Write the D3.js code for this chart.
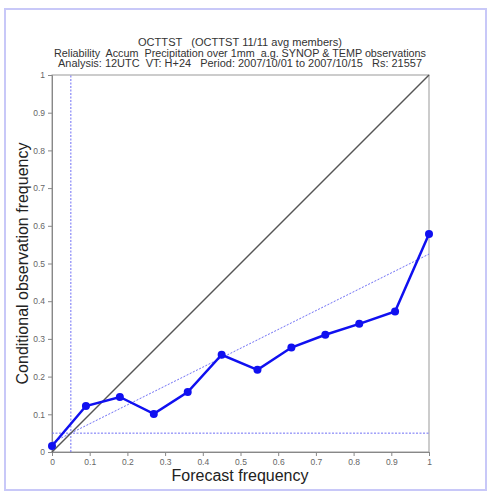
<!DOCTYPE html>
<html lang="en">
<head>
<meta charset="UTF-8">
<title>Reliability</title>
<script src="https://cdn.jsdelivr.net/npm/d3@7"></script>
<style>
    body { margin: 0; background: #fff; }
    text { font-family: "Liberation Sans", Arial, sans-serif; }
    .title { white-space: pre; }
</style>
</head>
<body>
<div id="chart"></div>
<script>
    // data
    const forecastProb = [0.0, 0.09, 0.18, 0.27, 0.36, 0.45, 0.545, 0.635, 0.725, 0.815, 0.91, 1.0];
    const observedFreq = [0.016, 0.122, 0.146, 0.101, 0.159, 0.258, 0.218, 0.277, 0.311, 0.340, 0.373, 0.578];
    const climate = 0.05;
    const ticks = [0, 0.1, 0.2, 0.3, 0.4, 0.5, 0.6, 0.7, 0.8, 0.9, 1];
    const titleLines = [
        "OCTTST   (OCTTST 11/11 avg members)",
        "Reliability  Accum  Precipitation over 1mm  a.g. SYNOP & TEMP observations",
        "Analysis: 12UTC  VT: H+24   Period: 2007/10/01 to 2007/10/15   Rs: 21557"
    ];
    const titleWidths = [204, 372, 364];

    const W = 489, H = 494;
    const svg = d3.select("#chart").append("svg")
        .attr("width", W).attr("height", H);

    // page frame
    svg.append("rect")
        .attr("x", 5).attr("y", 9).attr("width", 481).attr("height", 481)
        .attr("fill", "none").attr("stroke", "#c8c8f8").attr("stroke-width", 2);

    const x = d3.scaleLinear().domain([0, 1]).range([52, 429]);
    const y = d3.scaleLinear().domain([0, 1]).range([452, 75]);

    // titles
    svg.selectAll("text.title")
        .data(titleLines)
        .enter().append("text")
        .attr("class", "title")
        .attr("x", 240)
        .attr("y", (d, i) => 46 + i * 10.5)
        .attr("text-anchor", "middle")
        .attr("font-size", 10)
        .attr("textLength", (d, i) => titleWidths[i])
        .attr("lengthAdjust", "spacingAndGlyphs")
        .attr("fill", "#333")
        .text(d => d);

    // plot box
    svg.append("rect")
        .attr("x", x(0)).attr("y", y(1))
        .attr("width", x(1) - x(0)).attr("height", y(0) - y(1))
        .attr("fill", "none").attr("stroke", "#999").attr("stroke-width", 1);

    // axes
    const fmt = d => d === 0 ? "0" : d === 1 ? "1" : d3.format(".1f")(d);
    const xAxis = svg.append("g")
        .attr("transform", `translate(0,${y(0)})`)
        .call(d3.axisBottom(x).tickValues(ticks).tickFormat(fmt).tickSize(4).tickPadding(3));
    const yAxis = svg.append("g")
        .attr("transform", `translate(${x(0)},0)`)
        .call(d3.axisLeft(y).tickValues(ticks).tickFormat(fmt).tickSize(4).tickPadding(3));
    [xAxis, yAxis].forEach(a => {
        a.select(".domain").attr("stroke", "#888");
        a.selectAll(".tick line").attr("stroke", "#888");
        a.selectAll(".tick text").attr("fill", "#666").attr("font-size", 8.5)
            .attr("font-family", "Liberation Sans, Arial, sans-serif");
    });

    // climatology lines
    const dashed = { stroke: "#6f6ff5", width: 1, dash: "2,1.5" };
    svg.append("line")
        .attr("x1", x(climate)).attr("x2", x(climate))
        .attr("y1", y(0)).attr("y2", y(1))
        .attr("stroke", dashed.stroke).attr("stroke-width", dashed.width)
        .attr("stroke-dasharray", dashed.dash);
    svg.append("line")
        .attr("x1", x(0)).attr("x2", x(1))
        .attr("y1", y(climate)).attr("y2", y(climate))
        .attr("stroke", dashed.stroke).attr("stroke-width", dashed.width)
        .attr("stroke-dasharray", dashed.dash);
    // no-skill line
    svg.append("line")
        .attr("x1", x(0)).attr("x2", x(1))
        .attr("y1", y(climate / 2)).attr("y2", y(0.5 + climate / 2))
        .attr("stroke", dashed.stroke).attr("stroke-width", dashed.width)
        .attr("stroke-dasharray", dashed.dash);

    // perfect reliability diagonal
    svg.append("line")
        .attr("x1", x(0)).attr("x2", x(1))
        .attr("y1", y(0)).attr("y2", y(1))
        .attr("stroke", "#555").attr("stroke-width", 1.5);

    // reliability curve
    const pts = forecastProb.map((p, i) => [p, observedFreq[i]]);
    svg.append("path")
        .datum(pts)
        .attr("d", d3.line().x(d => x(d[0])).y(d => y(d[1])))
        .attr("fill", "none").attr("stroke", "#1010f0").attr("stroke-width", 2.5);
    svg.selectAll("circle.pt")
        .data(pts)
        .enter().append("circle")
        .attr("class", "pt")
        .attr("cx", d => x(d[0])).attr("cy", d => y(d[1]))
        .attr("r", 4)
        .attr("fill", "#1010f0");

    // axis labels
    svg.append("text")
        .attr("x", 240).attr("y", 481)
        .attr("text-anchor", "middle")
        .attr("font-size", 16).attr("fill", "#222")
        .text("Forecast frequency");
    svg.append("text")
        .attr("transform", `translate(28,${(y(0) + y(1)) / 2}) rotate(-90)`)
        .attr("text-anchor", "middle")
        .attr("font-size", 16).attr("fill", "#222")
        .text("Conditional observation frequency");
</script>
</body>
</html>
